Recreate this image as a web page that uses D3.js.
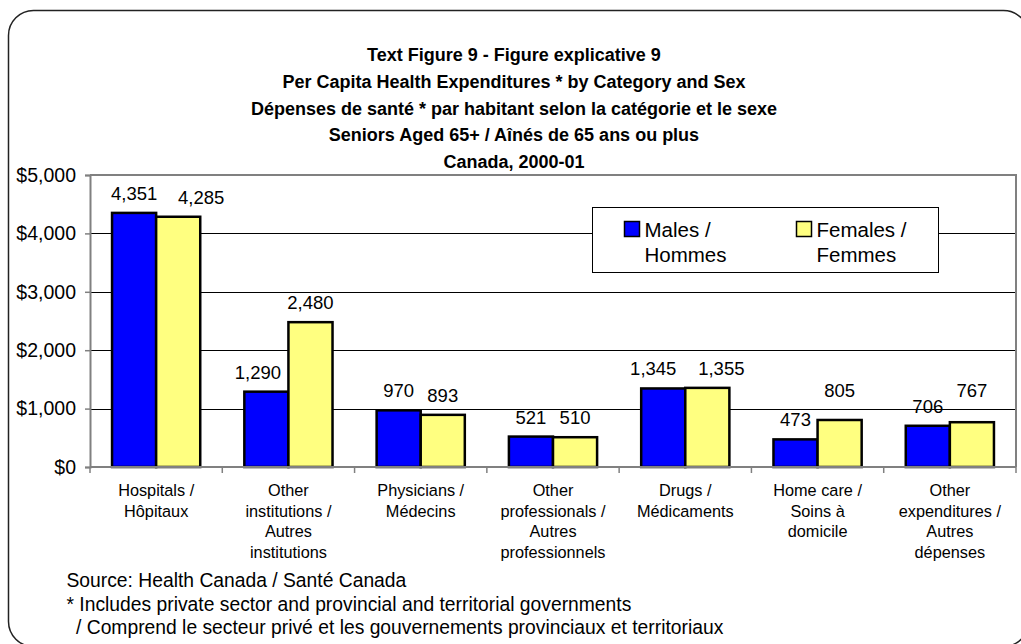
<!DOCTYPE html>
<html>
<head>
<meta charset="utf-8">
<script src="https://cdn.jsdelivr.net/npm/d3@7"></script>
<style>
  html, body { margin: 0; padding: 0; background: #fff; }
  svg { display: block; font-family: Arial, "Liberation Sans", sans-serif; }
</style>
</head>
<body>
<svg id="chart" width="1021" height="644"></svg>
<script>
const titleLines = [
  "Text Figure 9 - Figure explicative 9",
  "Per Capita Health Expenditures * by Category and Sex",
  "Dépenses de santé * par habitant selon la catégorie et le sexe",
  "Seniors Aged 65+ / Aînés de 65 ans ou plus",
  "Canada, 2000-01"
];
const categories = [
  ["Hospitals /", "Hôpitaux"],
  ["Other", "institutions /", "Autres", "institutions"],
  ["Physicians /", "Médecins"],
  ["Other", "professionals /", "Autres", "professionnels"],
  ["Drugs /", "Médicaments"],
  ["Home care /", "Soins à", "domicile"],
  ["Other", "expenditures /", "Autres", "dépenses"]
];
const males = [4351, 1290, 970, 521, 1345, 473, 706];
const females = [4285, 2480, 893, 510, 1355, 805, 767];
const seriesNames = [["Males /", "Hommes"], ["Females /", "Femmes"]];
const yTicks = [0, 1000, 2000, 3000, 4000, 5000];
const footnotes = [
  "Source: Health Canada / Santé Canada",
  "* Includes private sector and provincial and territorial governments",
  "/ Comprend le secteur privé et les gouvernements provinciaux et territoriaux"
];

// ---- styling / layout (not data) ----
const seriesColors = ["#0000ff", "#ffff80"];
// nudges of value labels, as placed in the original: "series-category" -> [dx, dy] px
const labelNudge = { "1-0": [23, 0], "0-1": [-8.5, 0], "0-4": [-10, 0], "1-4": [14, 0],
                     "1-5": [0, -10], "1-6": [0, -12] };

const svg = d3.select("#chart");

// outer rounded frame
svg.append("rect")
  .attr("x", 8.5).attr("y", 10.5).attr("width", 1020).attr("height", 636)
  .attr("rx", 25).attr("ry", 25)
  .attr("fill", "#fff").attr("stroke", "#222").attr("stroke-width", 1.5);

const plot = { left: 90, right: 1016, top: 175, bottom: 467 };

const idx = categories.map((d, i) => i);
const x0 = d3.scaleBand().domain(idx).range([plot.left, plot.right])
  .paddingInner(1/3).paddingOuter(1/6);
const step = x0.step();
const x1 = d3.scaleBand().domain([0, 1]).range([0, x0.bandwidth()]);
const y = d3.scaleLinear().domain([0, 5000]).range([plot.bottom, plot.top]);

// title
svg.append("g").selectAll("text").data(titleLines).join("text")
  .attr("x", 514).attr("y", (d, i) => 61 + i * 26.8)
  .attr("text-anchor", "middle")
  .attr("font-weight", "bold").attr("font-size", 18).attr("fill", "#000")
  .text(d => d);

// gridlines
svg.append("g").selectAll("line").data(yTicks.filter(t => t > 0 && t < 5000)).join("line")
  .attr("x1", plot.left).attr("x2", plot.right)
  .attr("y1", d => Math.round(y(d)) + 0.5).attr("y2", d => Math.round(y(d)) + 0.5)
  .attr("stroke", "#000").attr("stroke-width", 1);

// plot border top/right
svg.append("path")
  .attr("d", `M${plot.left},${plot.top}H${plot.right}V${plot.bottom}`)
  .attr("fill", "none").attr("stroke", "#808080").attr("stroke-width", 2);

// y axis
const yAxis = d3.axisLeft(y).tickValues(yTicks).tickSize(5).tickPadding(9)
  .tickFormat(d => "$" + d3.format(",")(d));
const gy = svg.append("g").attr("transform", `translate(${plot.left},0)`).call(yAxis);
gy.select(".domain").attr("stroke", "#808080").attr("stroke-width", 2);
gy.selectAll(".tick line").attr("stroke", "#808080").attr("stroke-width", 1.5);
gy.selectAll(".tick text").attr("font-size", 19.5).attr("fill", "#000")
  .attr("font-family", "Arial, 'Liberation Sans', sans-serif");

// bars
const data = idx.map(i => ({ i, vals: [males[i], females[i]] }));
const groups = svg.append("g").selectAll("g").data(data).join("g")
  .attr("transform", d => `translate(${x0(d.i)},0)`);
groups.selectAll("rect").data(d => d.vals.map((v, s) => ({ v, s, i: d.i }))).join("rect")
  .attr("x", d => x1(d.s)).attr("width", x1.bandwidth())
  .attr("y", d => y(d.v)).attr("height", d => y(0) - y(d.v))
  .attr("fill", d => seriesColors[d.s]).attr("stroke", "#000").attr("stroke-width", 2.5);
const nudge = d => labelNudge[d.s + "-" + d.i] || [0, 0];
groups.selectAll("text").data(d => d.vals.map((v, s) => ({ v, s, i: d.i }))).join("text")
  .attr("x", d => x1(d.s) + x1.bandwidth() / 2 + nudge(d)[0])
  .attr("y", d => y(d.v) - 13 + nudge(d)[1])
  .attr("text-anchor", "middle").attr("font-size", 18.5).attr("fill", "#000")
  .text(d => d3.format(",")(d.v));

// x axis
const xAxisLine = svg.append("g");
xAxisLine.append("line")
  .attr("x1", plot.left).attr("x2", plot.right).attr("y1", plot.bottom).attr("y2", plot.bottom)
  .attr("stroke", "#808080").attr("stroke-width", 2);
xAxisLine.selectAll("line.tk").data(d3.range(categories.length + 1)).join("line")
  .attr("class", "tk")
  .attr("x1", d => plot.left + d * step).attr("x2", d => plot.left + d * step)
  .attr("y1", plot.bottom).attr("y2", plot.bottom + 6)
  .attr("stroke", "#808080").attr("stroke-width", 1.5);

// category labels
const cat = svg.append("g").selectAll("text").data(idx).join("text")
  .attr("text-anchor", "middle").attr("font-size", 16.3).attr("fill", "#000")
  .attr("transform", d => `translate(${x0(d) + x0.bandwidth() / 2},0)`);
cat.selectAll("tspan").data(d => categories[d]).join("tspan")
  .attr("x", 0).attr("y", (d, j) => 496 + j * 20.5)
  .text(d => d);

// legend
const lg = svg.append("g");
lg.append("rect").attr("x", 592.5).attr("y", 207.5).attr("width", 346).attr("height", 65)
  .attr("fill", "#fff").attr("stroke", "#000").attr("stroke-width", 1);
const lgX = [624.5, 796.5];
seriesNames.forEach((nm, s) => {
  lg.append("rect").attr("x", lgX[s]).attr("y", 221.5).attr("width", 15).attr("height", 15)
    .attr("fill", seriesColors[s]).attr("stroke", "#000").attr("stroke-width", 1.5);
  const t = lg.append("text").attr("font-size", 20.5).attr("fill", "#000");
  t.append("tspan").attr("x", lgX[s] + 20).attr("y", 237).text(nm[0]);
  t.append("tspan").attr("x", lgX[s] + 20).attr("y", 262).text(nm[1]);
});

// footnotes
svg.append("g").selectAll("text").data(footnotes).join("text")
  .attr("x", (d, i) => i === 2 ? 76 : 66.5)
  .attr("y", (d, i) => 587 + i * 23.5)
  .attr("font-size", 19.3).attr("fill", "#000")
  .text(d => d);
</script>
</body>
</html>
